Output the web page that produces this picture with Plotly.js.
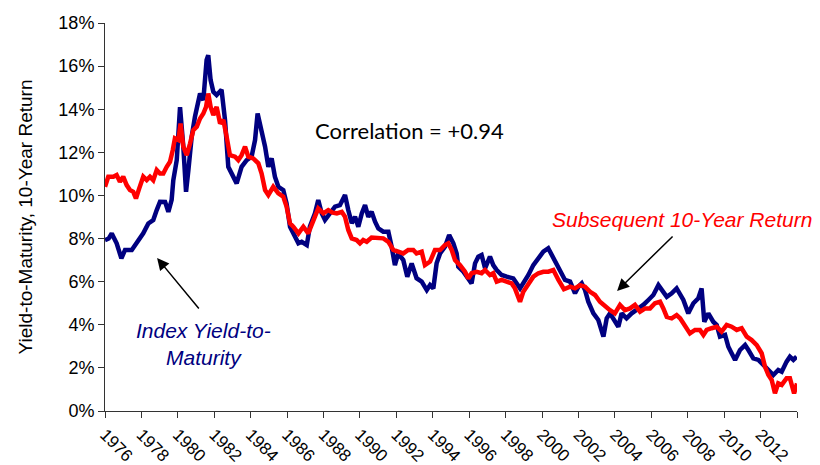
<!DOCTYPE html>
<html>
<head>
<meta charset="utf-8">
<script src="https://cdn.plot.ly/plotly-3.0.1.min.js"></script>
<style>html,body{margin:0;padding:0;background:#fff;}#chart{width:820px;height:465px;}</style>
</head>
<body>
<div id="chart"></div>
<script>
// Index yield-to-maturity (%)
const ytmYears = [1976.0,1976.2,1976.37,1976.64,1976.9,1977.1,1977.47,1977.74,1978.1,1978.38,1978.65,1978.84,1979.02,1979.3,1979.48,1979.66,1979.75,1979.94,1980.12,1980.3,1980.45,1980.58,1980.76,1980.94,1981.22,1981.4,1981.58,1981.67,1981.8,1981.95,1982.13,1982.4,1982.59,1982.77,1982.96,1983.23,1983.5,1983.78,1984.05,1984.24,1984.38,1984.6,1984.79,1984.97,1985.15,1985.33,1985.52,1985.79,1985.97,1986.16,1986.43,1986.62,1986.8,1987.08,1987.25,1987.53,1987.71,1987.9,1988.08,1988.36,1988.63,1988.9,1989.18,1989.36,1989.55,1989.73,1989.91,1990.1,1990.28,1990.46,1990.64,1990.83,1991.01,1991.28,1991.56,1991.74,1991.92,1992.1,1992.38,1992.6,1992.84,1993.11,1993.39,1993.67,1993.85,1994.03,1994.21,1994.4,1994.67,1994.9,1995.13,1995.31,1995.4,1995.68,1995.95,1996.13,1996.32,1996.5,1996.68,1996.87,1997.14,1997.32,1997.51,1997.78,1998.06,1998.42,1998.79,1998.97,1999.25,1999.52,1999.8,2000.07,2000.34,2000.53,2000.8,2001.08,2001.26,2001.54,2001.81,2002.0,2002.18,2002.36,2002.54,2002.82,2003.09,2003.37,2003.55,2003.73,2003.91,2004.19,2004.37,2004.64,2004.92,2005.2,2005.56,2005.84,2006.11,2006.39,2006.57,2006.85,2007.12,2007.39,2007.76,2008.03,2008.31,2008.58,2008.76,2008.91,2009.13,2009.4,2009.59,2009.77,2010.05,2010.23,2010.41,2010.6,2010.87,2011.15,2011.33,2011.6,2011.88,2012.15,2012.43,2012.7,2012.97,2013.16,2013.43,2013.61,2013.8,2013.98];
const ytmValues = [7.93,8.0,8.24,7.78,7.08,7.47,7.47,7.8,8.24,8.7,8.86,9.32,9.71,9.7,9.24,9.79,10.7,11.64,14.1,12.26,10.17,11.18,12.72,13.65,14.73,14.42,16.28,16.5,15.35,14.81,14.66,14.9,13.5,11.33,11.02,10.56,11.33,11.64,11.8,12.57,13.8,13.03,12.26,11.33,11.72,10.87,10.4,10.25,9.63,8.55,8.08,7.78,7.85,7.7,8.55,9.17,9.79,9.17,8.86,9.17,9.48,9.55,10.02,9.32,8.71,9.01,8.55,9.17,9.55,9.01,9.24,8.78,8.47,8.32,8.32,7.62,6.77,7.31,7.0,6.23,6.85,6.16,6.0,5.61,5.84,5.69,6.85,7.31,7.62,8.16,7.78,7.31,6.69,6.46,6.15,5.92,6.85,7.16,7.24,6.62,7.16,6.77,6.54,6.31,6.23,6.15,5.69,5.92,6.31,6.77,7.08,7.39,7.55,7.24,6.77,6.39,6.08,6.0,5.46,5.77,5.92,5.61,5.07,4.53,4.22,3.45,4.3,4.53,4.3,3.91,4.53,4.3,4.53,4.68,4.92,5.15,5.38,5.84,5.61,5.3,5.46,5.69,5.15,4.53,5.0,5.23,5.69,4.14,4.53,4.14,3.99,3.45,3.53,2.98,2.68,2.37,2.83,3.06,2.83,2.44,2.37,2.13,1.9,1.67,1.9,1.82,2.29,2.52,2.37,2.52];

// Subsequent 10-year return (%)
const retYears = [1976.0,1976.18,1976.46,1976.64,1976.82,1977.0,1977.19,1977.37,1977.55,1977.7,1977.88,1978.1,1978.29,1978.47,1978.65,1978.84,1979.02,1979.2,1979.39,1979.57,1979.72,1979.84,1980.03,1980.15,1980.3,1980.49,1980.67,1980.85,1981.04,1981.22,1981.4,1981.55,1981.67,1981.8,1981.95,1982.13,1982.32,1982.5,1982.68,1982.86,1983.14,1983.32,1983.5,1983.69,1983.87,1984.14,1984.42,1984.6,1984.79,1984.97,1985.24,1985.52,1985.79,1985.97,1986.16,1986.34,1986.62,1986.89,1987.16,1987.44,1987.71,1987.99,1988.26,1988.5,1988.73,1989.0,1989.18,1989.36,1989.55,1989.82,1990.0,1990.18,1990.37,1990.64,1990.92,1991.28,1991.56,1991.83,1992.1,1992.38,1992.65,1992.93,1993.11,1993.39,1993.57,1993.85,1994.12,1994.4,1994.67,1994.85,1995.04,1995.22,1995.49,1995.77,1995.95,1996.13,1996.41,1996.68,1996.87,1997.14,1997.32,1997.51,1997.78,1998.06,1998.33,1998.51,1998.79,1998.97,1999.25,1999.52,1999.8,2000.07,2000.34,2000.62,2000.9,2001.2,2001.54,2001.81,2002.09,2002.36,2002.64,2002.91,2003.18,2003.46,2003.73,2004.0,2004.28,2004.55,2004.83,2005.1,2005.38,2005.66,2005.93,2006.2,2006.48,2006.66,2006.85,2007.12,2007.39,2007.58,2007.85,2008.12,2008.4,2008.67,2008.86,2009.04,2009.31,2009.59,2009.86,2010.14,2010.41,2010.69,2010.96,2011.24,2011.51,2011.79,2012.06,2012.24,2012.43,2012.61,2012.79,2012.97,2013.16,2013.43,2013.61,2013.84,2014.0];
const retValues = [10.4,10.87,10.87,10.95,10.64,10.87,10.48,10.25,10.17,9.86,10.33,10.87,10.71,10.87,10.71,11.18,11.02,11.02,11.33,11.56,12.1,12.65,12.57,13.34,12.26,11.87,12.41,13.03,13.19,13.57,13.8,14.11,14.73,14.11,13.73,14.11,13.34,13.5,12.72,11.87,11.8,11.64,11.87,12.26,11.8,11.72,11.49,11.02,10.25,10.02,10.4,10.1,9.94,9.48,8.7,8.55,8.24,8.55,8.24,8.86,9.4,9.17,9.32,9.2,9.17,9.24,9.01,8.4,8.01,7.93,7.78,7.93,7.85,8.05,8.01,8.01,7.85,7.47,7.39,7.31,7.47,7.47,7.31,7.39,6.77,6.93,7.47,7.47,7.7,7.78,7.47,7.0,6.77,6.46,6.15,6.39,6.46,6.39,6.54,6.31,6.39,6.0,6.08,6.0,5.92,5.69,5.07,5.53,5.92,6.23,6.39,6.46,6.46,6.54,6.08,5.65,5.77,5.69,5.84,5.77,5.53,5.38,5.07,4.84,4.68,4.53,4.92,4.68,4.76,4.92,4.61,4.76,4.76,5.0,5.07,4.76,4.37,4.3,4.45,4.3,3.91,3.6,3.76,3.76,3.53,3.76,3.84,3.91,3.68,3.99,3.91,3.76,3.84,3.45,3.29,3.06,2.68,2.06,1.67,1.44,0.82,1.28,1.21,1.52,1.52,0.82,1.28];

const xTickVals = [1976,1978,1980,1982,1984,1986,1988,1990,1992,1994,1996,1998,2000,2002,2004,2006,2008,2010,2012,2014];
const xTickText = ['1976','1978','1980','1982','1984','1986','1988','1990','1992','1994','1996','1998','2000','2002','2004','2006','2008','2010','2012',''];
const yTickVals = [0,2,4,6,8,10,12,14,16,18];
const yTickText = ['0%','2%','4%','6%','8%','10%','12%','14%','16%','18%'];

const traces = [
  {x: ytmYears, y: ytmValues, type: 'scatter', mode: 'lines', name: 'Index Yield-to-Maturity',
   line: {color: '#000080', width: 4.5}},
  {x: retYears, y: retValues, type: 'scatter', mode: 'lines', name: 'Subsequent 10-Year Return',
   line: {color: '#ff0000', width: 4.5}}
];

const layout = {
  width: 820, height: 465,
  margin: {l: 105, r: 23, t: 23, b: 54},
  paper_bgcolor: '#ffffff', plot_bgcolor: '#ffffff',
  showlegend: false,
  font: {family: '"Liberation Sans", Arial, sans-serif', color: '#000'},
  xaxis: {
    range: [1976, 2014], tickmode: 'array', tickvals: xTickVals, ticktext: xTickText, tickangle: 45,
    ticks: 'outside', ticklen: 6, tickcolor: '#333', showline: true, linecolor: '#333', linewidth: 1,
    showgrid: false, zeroline: false, tickfont: {size: 17, color: '#000'}, automargin: false
  },
  yaxis: {
    range: [0, 18], tickmode: 'array', tickvals: yTickVals, ticktext: yTickText,
    ticks: 'outside', ticklen: 6, tickcolor: '#333', showline: true, linecolor: '#333', linewidth: 1,
    showgrid: false, zeroline: false, tickfont: {size: 18, color: '#000'}, automargin: false,
    title: {text: 'Yield-to-Maturity, 10-Year Return', font: {size: 19, color: '#000'}, standoff: 20}
  },
  annotations: [
    {xref: 'paper', yref: 'paper', x: 0.44, y: 0.724, xanchor: 'center', yanchor: 'middle',
     text: 'Correlation = +0.94', showarrow: false, font: {family: 'Lato, "Open Sans", sans-serif', size: 22, color: '#000'}},
    {xref: 'paper', yref: 'paper', x: 0.8338, y: 0.4923, xanchor: 'center', yanchor: 'middle',
     text: '<i>Subsequent 10-Year Return</i>', showarrow: false, font: {size: 21, color: '#ff0000'}},
    {xref: 'paper', yref: 'paper', x: 0.143, y: 0.1727, xanchor: 'center', yanchor: 'middle',
     text: '<i>Index Yield-to-</i><br><i>Maturity</i>', showarrow: false, font: {size: 21, color: '#000080'}},
    {x: 1978.86, y: 7.10, xref: 'x', yref: 'y', ax: 43, ay: 52, text: '', showarrow: true,
     arrowhead: 2, arrowsize: 1.6, arrowwidth: 1.5, arrowcolor: '#000'},
    {x: 2004.12, y: 5.57, xref: 'x', yref: 'y', ax: 57, ay: -56, text: '', showarrow: true,
     arrowhead: 2, arrowsize: 1.6, arrowwidth: 1.5, arrowcolor: '#000'}
  ]
};

Plotly.newPlot('chart', traces, layout, {staticPlot: true});
</script>
</body>
</html>
